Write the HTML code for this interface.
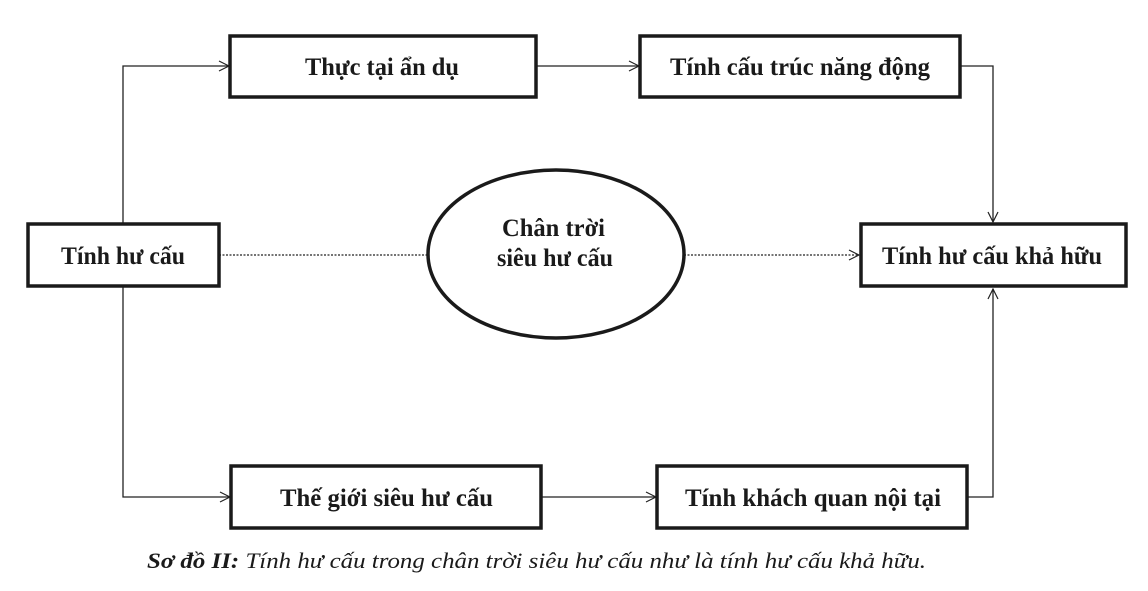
<!DOCTYPE html>
<html><head><meta charset="utf-8"><style>html,body{margin:0;padding:0;background:#fff}svg{display:block}
.t{font-family:"Liberation Serif",serif;font-weight:bold;font-size:25px;fill:#1a1a1a}
.c{font-family:"Liberation Serif",serif;font-style:italic;font-size:22px;fill:#1a1a1a}
</style></head>
<body>
<svg width="1148" height="591" viewBox="0 0 1148 591" xmlns="http://www.w3.org/2000/svg">
<defs>
<marker id="a" markerWidth="12" markerHeight="12" refX="11" refY="6" orient="auto" markerUnits="userSpaceOnUse">
<path d="M1,1 L11,6 L1,11" fill="none" stroke="#222" stroke-width="1.2"/>
</marker>
</defs>
<g fill="none" stroke="#222" stroke-width="1.3">
<path d="M123,223 V66 H229" marker-end="url(#a)"/>
<path d="M536,66 H639" marker-end="url(#a)"/>
<path d="M960,66 H993 V222" marker-end="url(#a)"/>
<path d="M123,287 V497 H230" marker-end="url(#a)"/>
<path d="M541,497 H656" marker-end="url(#a)"/>
<path d="M967,497 H993 V289" marker-end="url(#a)"/>
<path d="M219,255 H428" stroke-dasharray="2,1.5"/>
<path d="M684,255 H859" stroke-dasharray="2,1.5" marker-end="url(#a)"/>
</g>
<g fill="#fff" stroke="#1a1a1a" stroke-width="3.5">
<rect x="230" y="36" width="306" height="61"/>
<rect x="640" y="36" width="320" height="61"/>
<rect x="28" y="224" width="191" height="62"/>
<rect x="861" y="224" width="265" height="62"/>
<rect x="231" y="466" width="310" height="62"/>
<rect x="657" y="466" width="310" height="62"/>
<ellipse cx="556" cy="254" rx="128" ry="84"/>
</g>
<text class="t" x="305" y="75" textLength="154" lengthAdjust="spacingAndGlyphs">Thực tại ẩn dụ</text>
<text class="t" x="670" y="75" textLength="260" lengthAdjust="spacingAndGlyphs">Tính cấu trúc năng động</text>
<text class="t" x="61" y="264" textLength="124" lengthAdjust="spacingAndGlyphs">Tính hư cấu</text>
<text class="t" x="882" y="264" textLength="220" lengthAdjust="spacingAndGlyphs">Tính hư cấu khả hữu</text>
<text class="t" x="280" y="506" textLength="213" lengthAdjust="spacingAndGlyphs">Thế giới siêu hư cấu</text>
<text class="t" x="685" y="506" textLength="256" lengthAdjust="spacingAndGlyphs">Tính khách quan nội tại</text>
<text class="t" x="502" y="236" textLength="103" lengthAdjust="spacingAndGlyphs">Chân trời</text>
<text class="t" x="497" y="266" textLength="116" lengthAdjust="spacingAndGlyphs">siêu hư cấu</text>
<text class="c" x="147" y="568" textLength="779" lengthAdjust="spacingAndGlyphs"><tspan font-weight="bold">Sơ đồ II:</tspan> Tính hư cấu trong chân trời siêu hư cấu như là tính hư cấu khả hữu.</text>
</svg>
</body></html>
